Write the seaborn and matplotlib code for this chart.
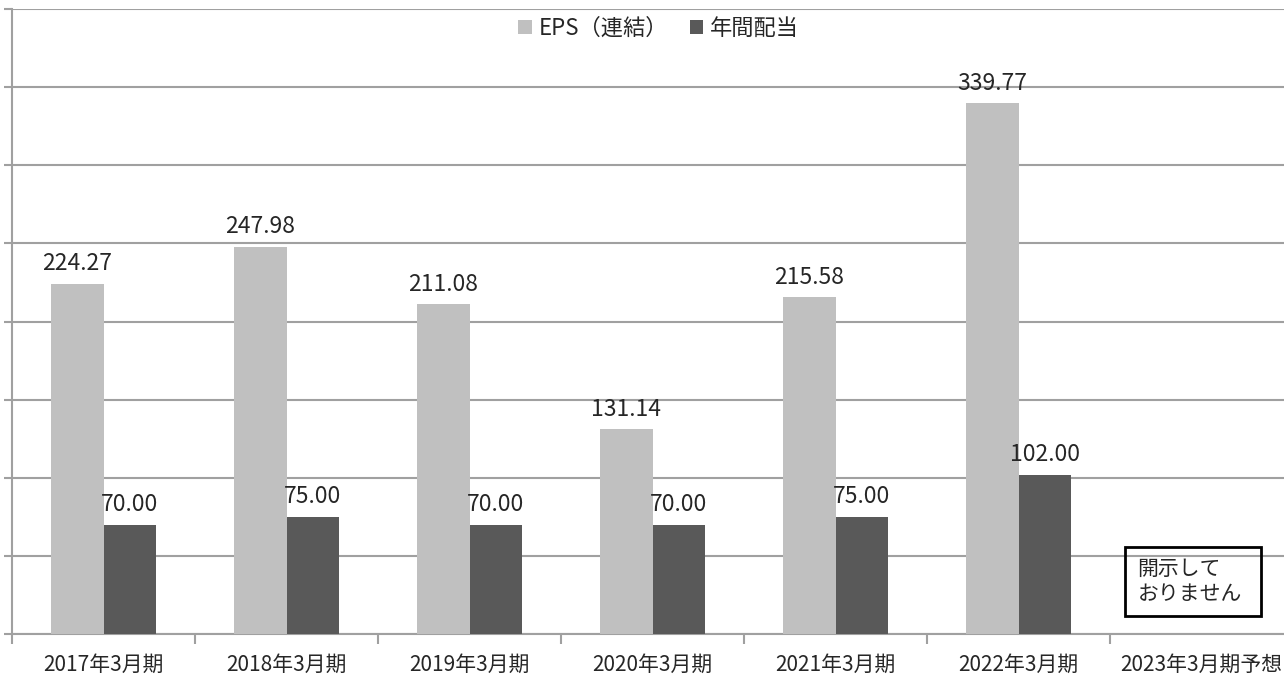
import matplotlib
matplotlib.use("Agg")
import numpy as np
import pandas as pd
import matplotlib.pyplot as plt
import seaborn as sns
from matplotlib.patches import Rectangle

# data
periods = ["2017年3月期", "2018年3月期", "2019年3月期", "2020年3月期",
           "2021年3月期", "2022年3月期", "2023年3月期予想"]
eps = [224.27, 247.98, 211.08, 131.14, 215.58, 339.77, np.nan]
dividend = [70.00, 75.00, 70.00, 70.00, 75.00, 102.00, np.nan]
series_names = ["EPS（連結）", "年間配当"]
note_text = "開示して\nおりません"

df = pd.DataFrame({
    "period": periods * 2,
    "value": eps + dividend,
    "series": [series_names[0]] * len(periods) + [series_names[1]] * len(periods),
})

sns.set_style("white")
plt.rcParams["font.family"] = ["Noto Sans CJK JP", "DejaVu Sans"]

fig = plt.figure(figsize=(12.84, 6.75), dpi=100)
ax = fig.add_axes([12 / 1284, 41 / 675, 1281 / 1284, 625 / 675])

grid_col = "#a0a0a0"
sns.barplot(data=df, x="period", y="value", hue="series", order=periods,
            hue_order=series_names, palette=["#c0c0c0", "#595959"],
            width=0.57, errorbar=None, saturation=1, linewidth=0,
            ax=ax, zorder=3)

ax.set_ylim(0, 400)
ax.set_xlim(-0.5, 6.5)
ax.set_yticks(np.arange(0, 401, 50))
ax.set_yticklabels([])
ax.yaxis.grid(True, color=grid_col, linewidth=1.5)
ax.set_axisbelow(True)
ax.tick_params(axis="y", length=6, width=1.5, color=grid_col, left=True)
ax.set_xticks(range(len(periods)))
ax.set_xticklabels(periods, fontsize=15)
ax.set_xticks(np.arange(-0.5, 6.6, 1), minor=True)
ax.tick_params(axis="x", which="major", length=0, pad=14)
ax.tick_params(axis="x", which="minor", length=7, width=1.5, color=grid_col, bottom=True)
ax.set_xlabel("")
ax.set_ylabel("")
for s in ["top", "right"]:
    ax.spines[s].set_visible(False)
for s in ["left", "bottom"]:
    ax.spines[s].set_color(grid_col)
    ax.spines[s].set_linewidth(1.5)

for cont in ax.containers:
    labels = ["" if np.isnan(b.get_height()) else f"{b.get_height():.2f}" for b in cont]
    ax.bar_label(cont, labels=labels, padding=6, fontsize=16.5)

# note box for the forecast year
ax.add_patch(Rectangle((5.58, 11.5), 0.745, 44.2, fill=False, edgecolor="black",
                       linewidth=2, zorder=5, clip_on=False))
ax.text(5.65, 33.5, note_text, fontsize=15, va="center", ha="left",
        linespacing=1.2, zorder=6)

ax.legend(loc="center", bbox_to_anchor=(0.513, 1 - 28 / 675),
          bbox_transform=fig.transFigure, ncol=2, frameon=False, fontsize=16,
          handlelength=0.6, handleheight=0.6, handletextpad=0.3, columnspacing=1.0)

fig.savefig("out.png", dpi=100)
